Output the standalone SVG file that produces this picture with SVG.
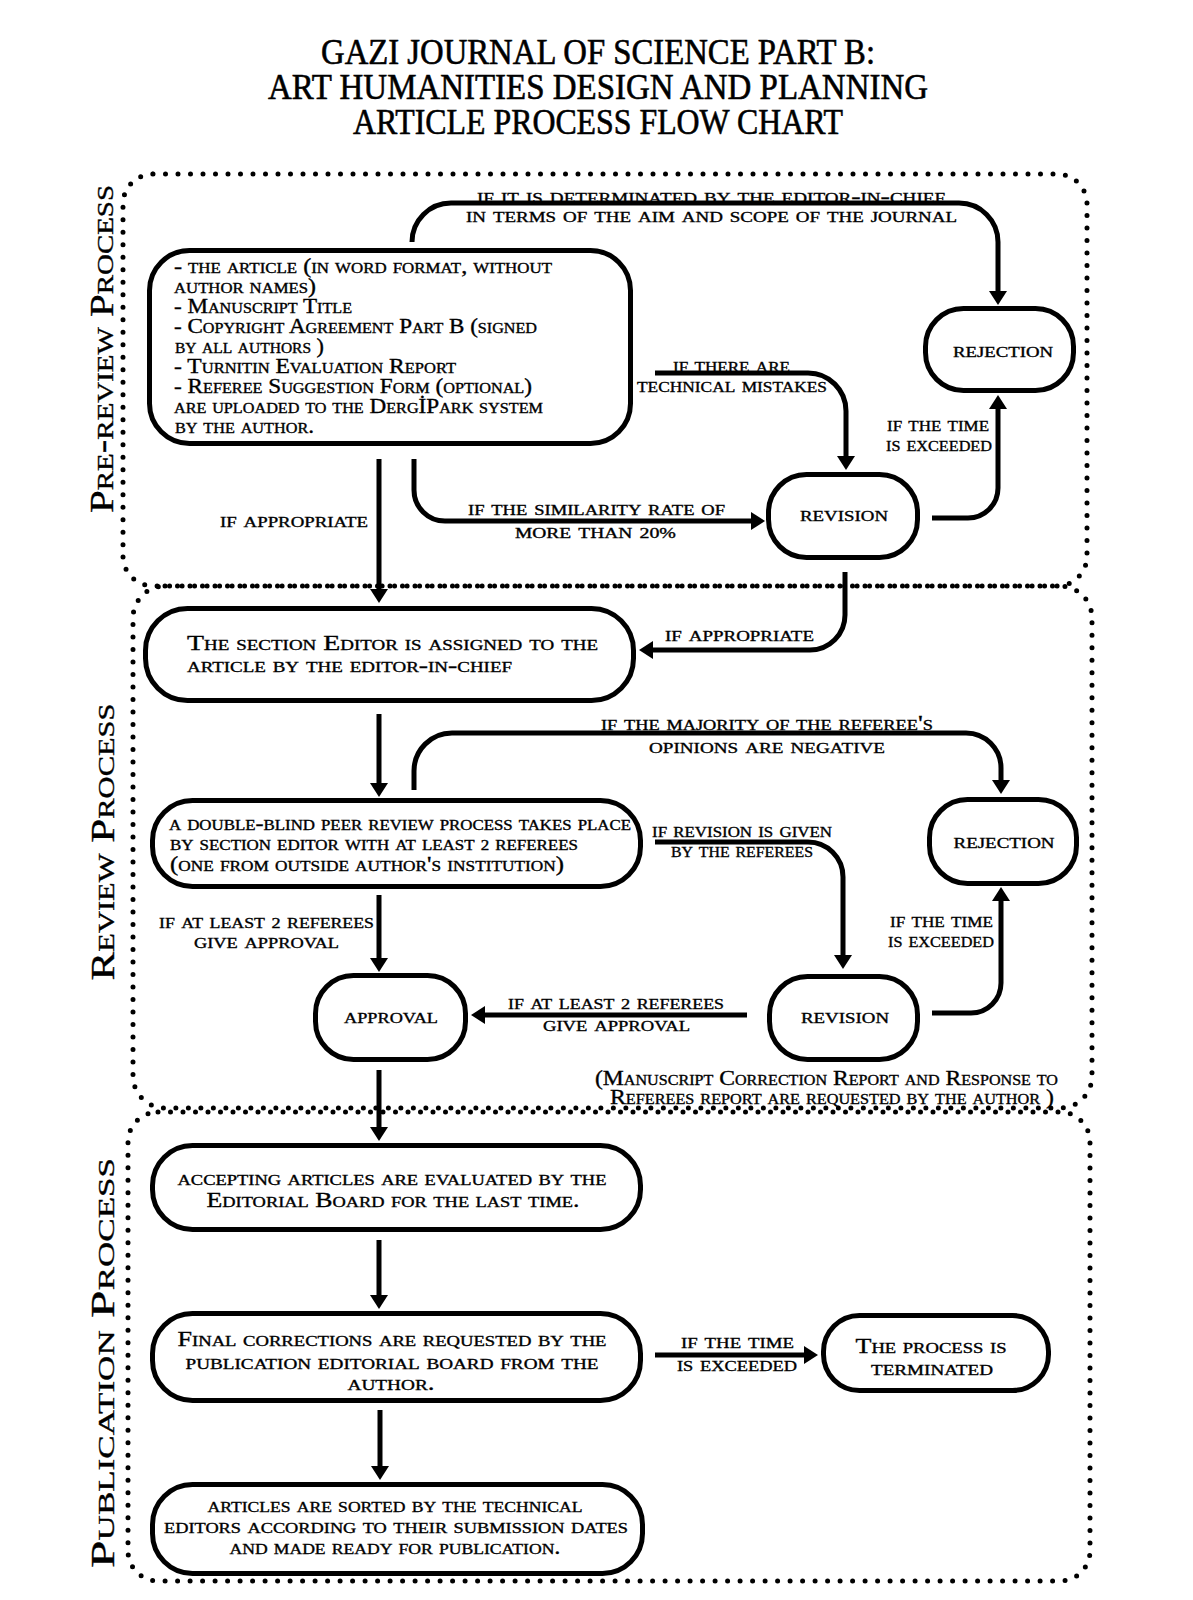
<svg xmlns="http://www.w3.org/2000/svg" width="1193" height="1600" viewBox="0 0 1193 1600">
<style>
text { font-family: "Liberation Serif", "DejaVu Serif", serif; font-variant: small-caps; fill: #000; stroke: #000; stroke-width: 0.35px; }
.title { font-size: 36px; text-anchor: middle; stroke-width: 0.6px; }
.sec { font-size: 34px; text-anchor: middle; }
.n { font-size: 20px; }
.nc { font-size: 21px; text-anchor: middle; }
.l { font-size: 22px; }
.box { fill: #fff; stroke: #000; stroke-width: 5; }
.dot { fill: none; stroke: #000; stroke-width: 5; stroke-linecap: round; stroke-dasharray: 0 12.5; }
.c { fill: none; stroke: #000; stroke-width: 5; marker-end: url(#ah); }
.sm { font-size: 0.7em; }
</style>
<defs>
<marker id="ah" viewBox="0 0 14 18" refX="6" refY="9" markerWidth="14" markerHeight="18" markerUnits="userSpaceOnUse" orient="auto">
<path d="M0,0 L14,9 L0,18 z" fill="#000"/>
</marker>
</defs>
<rect width="1193" height="1600" fill="#fff"/>

<g id="title">
<text class="title" x="598" y="64" textLength="554" lengthAdjust="spacingAndGlyphs">GAZI JOURNAL OF SCIENCE PART B:</text>
<text class="title" x="598" y="99" textLength="660" lengthAdjust="spacingAndGlyphs">ART HUMANITIES DESIGN AND PLANNING</text>
<text class="title" x="598" y="134" textLength="490" lengthAdjust="spacingAndGlyphs">ARTICLE PROCESS FLOW CHART</text>
</g>

<g id="sections">
<rect id="sec-prereview" class="dot" x="123" y="174" width="964" height="412" rx="30"/>
<rect id="sec-review" class="dot" x="133" y="586" width="959" height="522" rx="32"/>
<rect id="sec-publication" class="dot" x="128" y="1112" width="962" height="469" rx="30"/>
<text class="sec" transform="translate(113,349) rotate(-90)" textLength="328" lengthAdjust="spacingAndGlyphs">Pre-review Process</text>
<text class="sec" transform="translate(114,842) rotate(-90)" textLength="277" lengthAdjust="spacingAndGlyphs">Review Process</text>
<text class="sec" transform="translate(114,1363) rotate(-90)" textLength="410" lengthAdjust="spacingAndGlyphs">Publication Process</text>
</g>

<g id="connectors">
<path class="c" d="M412 242 A39 39 0 0 1 451 203 H959 A39 39 0 0 1 998 242 V297"/>
<path class="c" d="M655 373 H808 A38 38 0 0 1 846 411 V462"/>
<path class="c" d="M932 518 H968 A30 30 0 0 0 998 488 V403"/>
<path class="c" d="M379 459 V595"/>
<path class="c" d="M414 459 V490 A31 31 0 0 0 445 521 H757"/>
<path class="c" d="M845 572 V615 A35 35 0 0 1 810 650 H647"/>
<path class="c" d="M379 714 V789"/>
<path class="c" d="M414 790 V771 A38 38 0 0 1 452 733 H966 A35 35 0 0 1 1001 768 V786"/>
<path class="c" d="M655 842 H808 A35 35 0 0 1 843 877 V961"/>
<path class="c" d="M379 895 V964"/>
<path class="c" d="M747 1015 H479"/>
<path class="c" d="M932 1013 H971 A30 30 0 0 0 1001 983 V895"/>
<path class="c" d="M379 1070 V1133"/>
<path class="c" d="M379 1240 V1301"/>
<path class="c" d="M380 1410 V1472"/>
<path class="c" d="M655 1355 H810"/>
</g>

<g id="edge-labels">
<text class="l" x="477" y="203" textLength="468" lengthAdjust="spacingAndGlyphs">if it is determinated by the editor-in-chief</text>
<text class="l" x="466" y="222" textLength="491" lengthAdjust="spacingAndGlyphs">in terms of the aim and scope of the journal</text>
<text class="l" x="673" y="372" textLength="117" lengthAdjust="spacingAndGlyphs">if there are</text>
<text class="l" x="637" y="392" textLength="190" lengthAdjust="spacingAndGlyphs">technical mistakes</text>
<text class="l" x="887" y="431" textLength="102" lengthAdjust="spacingAndGlyphs">if the time</text>
<text class="l" x="886" y="451" textLength="106" lengthAdjust="spacingAndGlyphs">is exceeded</text>
<text class="l" x="220" y="527" textLength="148" lengthAdjust="spacingAndGlyphs">if appropriate</text>
<text class="l" x="468" y="515" textLength="257" lengthAdjust="spacingAndGlyphs">if the similarity rate of</text>
<text class="l" x="515" y="538" textLength="161" lengthAdjust="spacingAndGlyphs">more than <tspan class="sm">20%</tspan></text>
<text class="l" x="665" y="641" textLength="149" lengthAdjust="spacingAndGlyphs">if appropriate</text>
<text class="l" x="601" y="730" textLength="332" lengthAdjust="spacingAndGlyphs">if the majority of the referee's</text>
<text class="l" x="649" y="753" textLength="236" lengthAdjust="spacingAndGlyphs">opinions are negative</text>
<text class="l" x="652" y="837" textLength="180" lengthAdjust="spacingAndGlyphs">if revision is given</text>
<text class="l" x="671" y="857" textLength="142" lengthAdjust="spacingAndGlyphs">by the referees</text>
<text class="l" x="159" y="928" textLength="215" lengthAdjust="spacingAndGlyphs">if at least <tspan class="sm">2</tspan> referees</text>
<text class="l" x="194" y="948" textLength="145" lengthAdjust="spacingAndGlyphs">give approval</text>
<text class="l" x="508" y="1009" textLength="216" lengthAdjust="spacingAndGlyphs">if at least <tspan class="sm">2</tspan> referees</text>
<text class="l" x="543" y="1031" textLength="147" lengthAdjust="spacingAndGlyphs">give approval</text>
<text class="l" x="890" y="927" textLength="103" lengthAdjust="spacingAndGlyphs">if the time</text>
<text class="l" x="888" y="947" textLength="106" lengthAdjust="spacingAndGlyphs">is exceeded</text>
<text class="l" x="595" y="1085" textLength="463" lengthAdjust="spacingAndGlyphs">(Manuscript Correction Report and Response to</text>
<text class="l" x="610" y="1104" textLength="444" lengthAdjust="spacingAndGlyphs">Referees report are requested by the author )</text>
<text class="l" x="681" y="1348" textLength="113" lengthAdjust="spacingAndGlyphs">if the time</text>
<text class="l" x="677" y="1371" textLength="120" lengthAdjust="spacingAndGlyphs">is exceeded</text>
</g>

<g id="node-submission">
<rect class="box" x="149.5" y="250.5" width="481" height="193" rx="40"/>
<text class="n" x="174" y="273" textLength="378" lengthAdjust="spacingAndGlyphs">- the article (in word format, without</text>
<text class="n" x="174" y="293" textLength="142" lengthAdjust="spacingAndGlyphs">author names)</text>
<text class="n" x="174" y="313" textLength="178" lengthAdjust="spacingAndGlyphs">- Manuscript Title</text>
<text class="n" x="174" y="333" textLength="363" lengthAdjust="spacingAndGlyphs">- Copyright Agreement Part B (signed</text>
<text class="n" x="175" y="353" textLength="149" lengthAdjust="spacingAndGlyphs">by all authors )</text>
<text class="n" x="174" y="373" textLength="282" lengthAdjust="spacingAndGlyphs">- Turnitin Evaluation Report</text>
<text class="n" x="174" y="393" textLength="358" lengthAdjust="spacingAndGlyphs">- Referee Suggestion Form (optional)</text>
<text class="n" x="174" y="413" textLength="369" lengthAdjust="spacingAndGlyphs">are uploaded to the DergİPark system</text>
<text class="n" x="175" y="433" textLength="139" lengthAdjust="spacingAndGlyphs">by the author.</text>
</g>

<g id="node-rejection-1">
<rect class="box" x="925.5" y="308.5" width="148" height="82" rx="38"/>
<text class="nc" x="1003" y="357" textLength="100" lengthAdjust="spacingAndGlyphs">rejection</text>
</g>

<g id="node-revision-1">
<rect class="box" x="768.5" y="474.5" width="149" height="83" rx="38"/>
<text class="nc" x="844" y="521" textLength="88" lengthAdjust="spacingAndGlyphs">revision</text>
</g>

<g id="node-section-editor">
<rect class="box" x="145.5" y="608.5" width="488" height="92" rx="42"/>
<text class="n" style="font-size:22px" x="187" y="650" textLength="411" lengthAdjust="spacingAndGlyphs">The section Editor is assigned to the</text>
<text class="n" style="font-size:22px" x="187" y="672" textLength="325" lengthAdjust="spacingAndGlyphs">article by the editor-in-chief</text>
</g>

<g id="node-peer-review">
<rect class="box" x="152.5" y="800.5" width="488" height="86" rx="40"/>
<text class="n" x="169" y="830" textLength="462" lengthAdjust="spacingAndGlyphs">a double-blind peer review process takes place</text>
<text class="n" x="170" y="850" textLength="408" lengthAdjust="spacingAndGlyphs">by section editor with at least <tspan class="sm">2</tspan> referees</text>
<text class="n" x="170" y="871" textLength="394" lengthAdjust="spacingAndGlyphs">(one from outside author's institution)</text>
</g>

<g id="node-rejection-2">
<rect class="box" x="929.5" y="799.5" width="147" height="84" rx="38"/>
<text class="nc" x="1004" y="848" textLength="101" lengthAdjust="spacingAndGlyphs">rejection</text>
</g>

<g id="node-approval">
<rect class="box" x="315.5" y="975.5" width="150" height="84" rx="38"/>
<text class="nc" x="391" y="1023" textLength="94" lengthAdjust="spacingAndGlyphs">approval</text>
</g>

<g id="node-revision-2">
<rect class="box" x="769.5" y="976.5" width="148" height="83" rx="38"/>
<text class="nc" x="845" y="1023" textLength="88" lengthAdjust="spacingAndGlyphs">revision</text>
</g>

<g id="node-editorial-board">
<rect class="box" x="152.5" y="1145.5" width="488" height="84" rx="40"/>
<text class="nc" x="392" y="1185" textLength="429" lengthAdjust="spacingAndGlyphs">accepting articles are evaluated by the</text>
<text class="nc" x="393" y="1207" textLength="373" lengthAdjust="spacingAndGlyphs">Editorial Board for the last time.</text>
</g>

<g id="node-final-corrections">
<rect class="box" x="152.5" y="1313.5" width="488" height="87" rx="40"/>
<text class="nc" x="392" y="1346" textLength="429" lengthAdjust="spacingAndGlyphs">Final corrections are requested by the</text>
<text class="nc" x="392" y="1369" textLength="413" lengthAdjust="spacingAndGlyphs">publication editorial board from the</text>
<text class="nc" x="391" y="1390" textLength="87" lengthAdjust="spacingAndGlyphs">author.</text>
</g>

<g id="node-terminated">
<rect class="box" x="823.5" y="1315.5" width="225" height="75" rx="36"/>
<text class="nc" x="931" y="1353" textLength="151" lengthAdjust="spacingAndGlyphs">The process is</text>
<text class="nc" x="932" y="1375" textLength="122" lengthAdjust="spacingAndGlyphs">terminated</text>
</g>

<g id="node-publication">
<rect class="box" x="152.5" y="1484.5" width="490" height="89" rx="40"/>
<text class="nc" x="395" y="1512" textLength="375" lengthAdjust="spacingAndGlyphs">articles are sorted by the technical</text>
<text class="nc" x="396" y="1533" textLength="464" lengthAdjust="spacingAndGlyphs">editors according to their submission dates</text>
<text class="nc" x="395" y="1554" textLength="331" lengthAdjust="spacingAndGlyphs">and made ready for publication.</text>
</g>
</svg>
